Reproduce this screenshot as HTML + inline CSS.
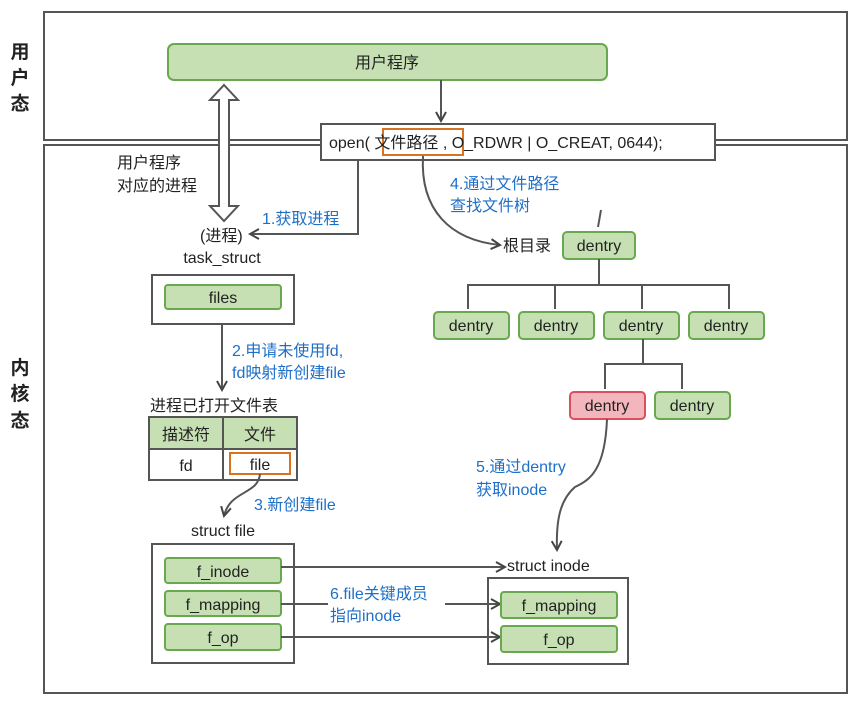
<!DOCTYPE html>
<html><head><meta charset="utf-8"><style>
body{margin:0;background:#fff;}
svg text{font-family:"Liberation Sans","Noto Sans CJK SC",sans-serif;font-size:16px;fill:#222;}
.b{fill:#1e6fc8 !important;}
.g{fill:#c6e0b4;stroke:#6aa84f;stroke-width:2;}
.r{fill:#f4b6bd;stroke:#d9505e;stroke-width:2;}
.k{fill:none;stroke:#555;stroke-width:2;}
</style></head><body>
<svg width="859" height="705" viewBox="0 0 859 705" xmlns="http://www.w3.org/2000/svg">
<defs><marker id="a" markerWidth="12" markerHeight="12" refX="10" refY="6" orient="auto" markerUnits="userSpaceOnUse"><path d="M1,1 L10,6 L1,11" fill="none" stroke="#444" stroke-width="2"/></marker></defs>
<rect x="44" y="12" width="803" height="128" class="k"/>
<rect x="44" y="145" width="803" height="548" class="k"/>
<text x="20" y="58" text-anchor="middle" style="font-weight:bold;font-size:19px">用</text>
<text x="20" y="84" text-anchor="middle" style="font-weight:bold;font-size:19px">户</text>
<text x="20" y="110" text-anchor="middle" style="font-weight:bold;font-size:19px">态</text>
<text x="20" y="374" text-anchor="middle" style="font-weight:bold;font-size:19px">内</text>
<text x="20" y="400" text-anchor="middle" style="font-weight:bold;font-size:19px">核</text>
<text x="20" y="427" text-anchor="middle" style="font-weight:bold;font-size:19px">态</text>
<rect x="168" y="44" width="439" height="36" rx="6" class="g"/>
<text x="387" y="68" text-anchor="middle">用户程序</text>
<line x1="441" y1="80" x2="441" y2="121" class="k" marker-end="url(#a)"/>
<rect x="321" y="124" width="394" height="36" fill="#fff" stroke="#555" stroke-width="2"/>
<rect x="383" y="129" width="80" height="26" fill="none" stroke="#d9731f" stroke-width="2"/>
<text x="329" y="148">open( 文件路径 , O_RDWR | O_CREAT, 0644);</text>
<path d="M224,85 L238,100 L229,100 L229,206 L238,206 L224,221 L210,206 L219,206 L219,100 L210,100 Z" fill="#fff" stroke="#555" stroke-width="2"/>
<text x="117" y="168">用户程序</text>
<text x="117" y="191">对应的进程</text>
<polyline points="358,160 358,234 250,234" class="k" marker-end="url(#a)"/>
<text x="262" y="224" class="b">1.获取进程</text>
<text x="200" y="241">(进程)</text>
<text x="222" y="263" text-anchor="middle">task_struct</text>
<rect x="152" y="275" width="142" height="49" class="k"/>
<rect x="165" y="285" width="116" height="24" rx="3" class="g"/>
<text x="223" y="303" text-anchor="middle">files</text>
<line x1="222" y1="324" x2="222" y2="390" class="k" marker-end="url(#a)"/>
<text x="232" y="356" class="b">2.申请未使用fd,</text>
<text x="232" y="378" class="b">fd映射新创建file</text>
<text x="150" y="411">进程已打开文件表</text>
<rect x="149" y="417" width="148" height="32" fill="#c6e0b4"/>
<rect x="149" y="417" width="148" height="63" class="k"/>
<line x1="223" y1="417" x2="223" y2="480" class="k"/><line x1="149" y1="449" x2="297" y2="449" class="k"/>
<text x="186" y="440" text-anchor="middle">描述符</text>
<text x="260" y="440" text-anchor="middle">文件</text>
<text x="186" y="471" text-anchor="middle">fd</text>
<rect x="230" y="453" width="60" height="21" fill="none" stroke="#d9731f" stroke-width="2"/>
<text x="260" y="470" text-anchor="middle">file</text>
<path d="M260,474 C258,495 230,490 224,516" class="k" marker-end="url(#a)"/>
<text x="254" y="510" class="b">3.新创建file</text>
<text x="223" y="536" text-anchor="middle">struct file</text>
<rect x="152" y="544" width="142" height="119" class="k"/>
<rect x="165" y="558" width="116" height="25" rx="3" class="g"/><text x="223" y="577" text-anchor="middle">f_inode</text>
<rect x="165" y="591" width="116" height="25" rx="3" class="g"/><text x="223" y="610" text-anchor="middle">f_mapping</text>
<rect x="165" y="624" width="116" height="26" rx="3" class="g"/><text x="223" y="643" text-anchor="middle">f_op</text>
<line x1="281" y1="567" x2="505" y2="567" class="k" marker-end="url(#a)"/>
<line x1="281" y1="604" x2="328" y2="604" class="k"/>
<line x1="445" y1="604" x2="500" y2="604" class="k" marker-end="url(#a)"/>
<line x1="281" y1="637" x2="500" y2="637" class="k" marker-end="url(#a)"/>
<text x="330" y="599" class="b">6.file关键成员</text>
<text x="330" y="621" class="b">指向inode</text>
<text x="507" y="571">struct inode</text>
<rect x="488" y="578" width="140" height="86" class="k"/>
<rect x="501" y="592" width="116" height="26" rx="3" class="g"/><text x="559" y="611" text-anchor="middle">f_mapping</text>
<rect x="501" y="626" width="116" height="26" rx="3" class="g"/><text x="559" y="645" text-anchor="middle">f_op</text>
<path d="M423,156 C420,210 450,240 500,245" class="k" marker-end="url(#a)"/>
<text x="450" y="189" class="b">4.通过文件路径</text>
<text x="450" y="211" class="b">查找文件树</text>
<line x1="601" y1="210" x2="598" y2="227" class="k"/>
<text x="503" y="251">根目录</text>
<rect x="563" y="232" width="72" height="27" rx="4" class="g"/><text x="599" y="251" text-anchor="middle">dentry</text>
<path d="M599,259 V285 M468,309 V285 H729 V309 M555,285 V309 M642,285 V309" class="k"/>
<rect x="434" y="312" width="75" height="27" rx="4" class="g"/><text x="471" y="331" text-anchor="middle">dentry</text>
<rect x="519" y="312" width="75" height="27" rx="4" class="g"/><text x="556" y="331" text-anchor="middle">dentry</text>
<rect x="604" y="312" width="75" height="27" rx="4" class="g"/><text x="641" y="331" text-anchor="middle">dentry</text>
<rect x="689" y="312" width="75" height="27" rx="4" class="g"/><text x="726" y="331" text-anchor="middle">dentry</text>
<path d="M643,339 V364 M605,389 V364 H682 V389" class="k"/>
<rect x="570" y="392" width="75" height="27" rx="4" class="r"/><text x="607" y="411" text-anchor="middle">dentry</text>
<rect x="655" y="392" width="75" height="27" rx="4" class="g"/><text x="692" y="411" text-anchor="middle">dentry</text>
<path d="M607,419 C605,470 590,480 575,487 C560,500 556,520 557,550" class="k" marker-end="url(#a)"/>
<text x="476" y="472" class="b">5.通过dentry</text>
<text x="476" y="495" class="b">获取inode</text>
</svg>
</body></html>
